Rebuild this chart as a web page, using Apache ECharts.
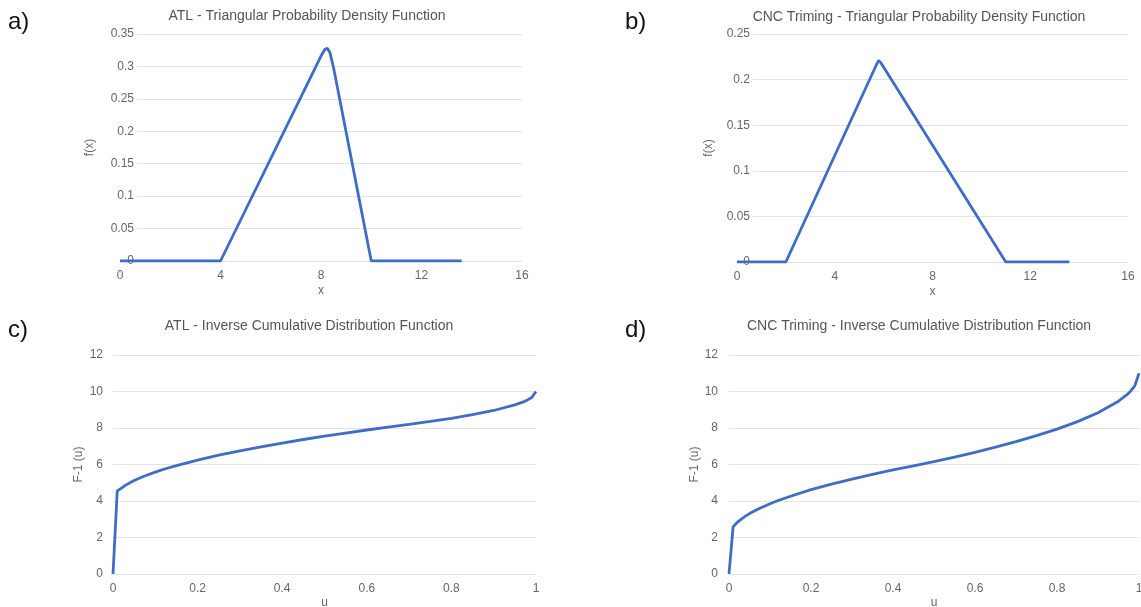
<!DOCTYPE html>
<html>
<head>
<meta charset="utf-8">
<script src="https://cdn.jsdelivr.net/npm/echarts@6/dist/echarts.min.js"></script>
<style>
html,body{margin:0;padding:0;background:#fff;}
#chart{width:1141px;height:607px;}
</style>
</head>
<body>
<div id="chart"></div>
<script>
// a) ATL pdf
var atlPdfX = [0, 4, 8.0, 8.15, 8.25, 8.35, 8.5, 10, 13.6];
var atlPdfY = [0, 0, 0.316, 0.326, 0.328, 0.322, 0.298, 0, 0];
// b) CNC pdf
var cncPdfX = [0, 2, 5.7, 5.8, 5.9, 11, 13.6];
var cncPdfY = [0, 0, 0.216, 0.221, 0.218, 0, 0];
// c/d) inverse cdf, shared u values
var uVals = [0, 0.01, 0.02, 0.03, 0.04, 0.05, 0.07, 0.1, 0.12, 0.15, 0.2, 0.25, 0.3, 0.35, 0.4, 0.45, 0.5,
             0.55, 0.6, 0.65, 0.7, 0.75, 0.8, 0.85, 0.9, 0.95, 0.97, 0.98, 0.99, 1];
var atlInv = [0, 4.55, 4.71, 4.87, 5.0, 5.12, 5.33, 5.58, 5.74, 5.94, 6.24, 6.51, 6.75, 6.97, 7.17, 7.37, 7.55,
              7.72, 7.89, 8.05, 8.2, 8.36, 8.53, 8.73, 8.96, 9.27, 9.43, 9.54, 9.67, 10];
var cncInv = [0, 2.58, 2.83, 3.01, 3.17, 3.31, 3.55, 3.85, 4.03, 4.26, 4.62, 4.92, 5.2, 5.46, 5.7, 5.93, 6.16,
              6.41, 6.67, 6.95, 7.25, 7.58, 7.94, 8.35, 8.84, 9.47, 9.81, 10.03, 10.32, 11];

var titles = [
    'ATL - Triangular Probability Density Function',
    'CNC Triming - Triangular Probability Density Function',
    'ATL - Inverse Cumulative Distribution Function',
    'CNC Triming - Inverse Cumulative Distribution Function'
];

var FONT = '"Liberation Sans", Arial, sans-serif';
var LINE = '#3d6dc6';
var GRID_LINE = '#e3e3e3';
var LABEL = '#666';

function zip(xs, ys) {
    return xs.map(function(x, i) { return [x, ys[i]]; });
}

function gridOf(left, right, top, bottom) {
    // v6 would otherwise shrink the grid to keep labels inside
    return {left: left, right: right, top: top, bottom: bottom, outerBoundsMode: 'none', containLabel: false};
}
function hiddenAxis(gi, min, max) {
    return {type: 'value', gridIndex: gi, min: min, max: max, show: false};
}
function xAxisOf(gi, min, max, interval, name, gap) {
    return {
        type: 'value', gridIndex: gi, min: min, max: max, interval: interval,
        name: name, nameLocation: 'middle', nameGap: gap,
        nameTextStyle: {color: LABEL, fontSize: 12, fontFamily: FONT},
        axisLine: {show: false}, axisTick: {show: false}, splitLine: {show: false},
        axisLabel: {color: LABEL, fontSize: 12, fontFamily: FONT, margin: 9}
    };
}
function yAxisOf(gi, min, max, interval, name, gap, margin) {
    return {
        type: 'value', gridIndex: gi, min: min, max: max, interval: interval,
        name: name, nameLocation: 'middle', nameGap: gap, nameRotate: 90,
        nameTextStyle: {color: LABEL, fontSize: 12, fontFamily: FONT},
        axisLine: {show: false}, axisTick: {show: false},
        splitLine: {show: true, lineStyle: {color: GRID_LINE, width: 1}},
        axisLabel: {color: LABEL, fontSize: 12, fontFamily: FONT, margin: margin}
    };
}
function lineOf(xi, yi, data) {
    return {
        type: 'line', xAxisIndex: xi, yAxisIndex: yi, data: data,
        showSymbol: false, smooth: false, silent: true, z: 3,
        lineStyle: {color: LINE, width: 2.8}
    };
}
function textOf(text, x, y, size, color, align) {
    return {
        type: 'text', x: x, y: y, silent: true,
        style: {text: text, fill: color, font: size + 'px ' + FONT,
                align: align, textAlign: align, verticalAlign: 'middle', textVerticalAlign: 'middle'}
    };
}

var chart = echarts.init(document.getElementById('chart'));
var option = {
    animation: false,
    backgroundColor: '#fff',
    grid: [
        gridOf(137, 619, 34, 346),
        gridOf(120, 619, 34, 346),
        gridOf(753, 13, 34, 345),
        gridOf(737, 13, 34, 345),
        gridOf(113, 605, 355, 33),
        gridOf(729, 2, 355, 33)
    ],
    xAxis: [
        hiddenAxis(0, 0, 1),
        xAxisOf(1, 0, 16, 4, 'x', 24),
        hiddenAxis(2, 0, 1),
        xAxisOf(3, 0, 16, 4, 'x', 24),
        xAxisOf(4, 0, 1, 0.2, 'u', 23),
        xAxisOf(5, 0, 1, 0.2, 'u', 23)
    ],
    yAxis: [
        yAxisOf(0, 0, 0.35, 0.05, 'f(x)', 41, 3),
        hiddenAxis(1, 0, 0.35),
        yAxisOf(2, 0, 0.25, 0.05, 'f(x)', 38, 3),
        hiddenAxis(3, 0, 0.25),
        yAxisOf(4, 0, 12, 2, 'F-1 (u)', 28, 10),
        yAxisOf(5, 0, 12, 2, 'F-1 (u)', 27, 11)
    ],
    series: [
        lineOf(1, 1, zip(atlPdfX, atlPdfY)),
        lineOf(3, 3, zip(cncPdfX, cncPdfY)),
        lineOf(4, 4, zip(uVals, atlInv)),
        lineOf(5, 5, zip(uVals, cncInv))
    ],
    graphic: [
        textOf(titles[0], 307, 16, 14, '#555', 'center'),
        textOf(titles[1], 919, 17, 14, '#555', 'center'),
        textOf(titles[2], 309, 326, 14, '#555', 'center'),
        textOf(titles[3], 919, 326, 14, '#555', 'center'),
        textOf('a)', 8, 22, 24, '#111', 'left'),
        textOf('b)', 625, 22, 24, '#111', 'left'),
        textOf('c)', 8, 330, 24, '#111', 'left'),
        textOf('d)', 625, 330, 24, '#111', 'left')
    ]
};
chart.setOption(option);
</script>
</body>
</html>
